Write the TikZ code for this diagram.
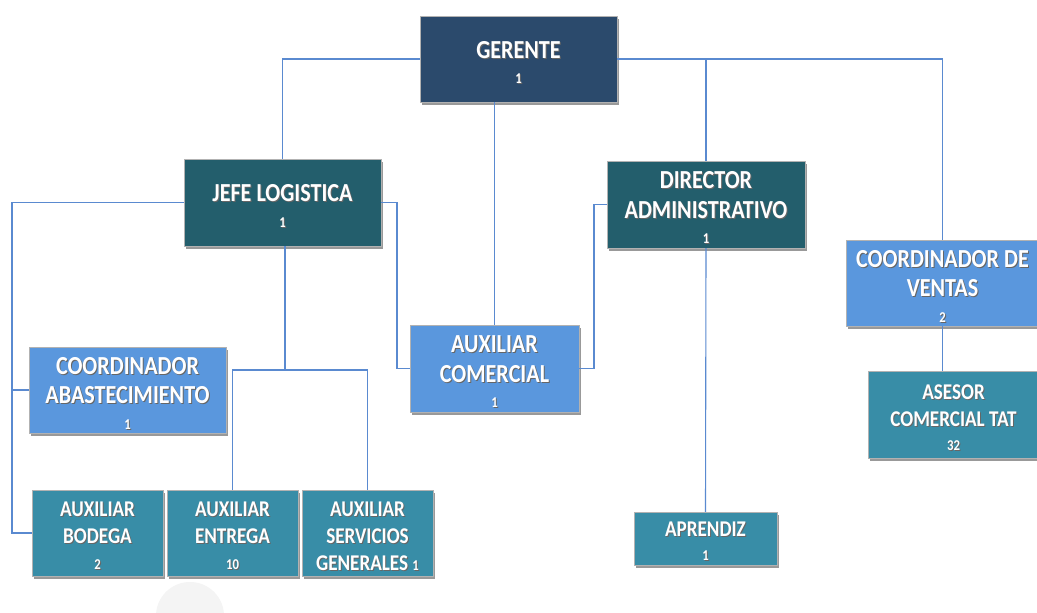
\documentclass[tikz,border=0pt]{standalone}
\usepackage{fontspec}
\setmainfont{Carlito}[FakeStretch=0.85]
\usetikzlibrary{shadows}
\definecolor{navy}{HTML}{2B4A6C}
\definecolor{dteal}{HTML}{235E6C}
\definecolor{lblue}{HTML}{5A97DD}
\definecolor{teal2}{HTML}{388DA7}
\definecolor{conn}{HTML}{5A8AD0}
\newcommand\shtext[1]{\leavevmode\rlap{\kern1pt\raisebox{-1pt}{\color{black!60}#1}}#1}
\newcommand\bt[1]{\shtext{#1}}
\newcommand\ft[1]{\rule{0pt}{0.95em}\shtext{#1}}
\newcommand\nm[1]{{\fontsize{15}{29}\selectfont\shtext{#1}}}
\tikzset{
  box/.style={draw=white!70!black, line width=0.4pt, text=white, align=center,
    inner sep=0pt, font=\fontsize{26}{29.5}\selectfont\bfseries,
    drop shadow={shadow xshift=2pt, shadow yshift=-2.5pt, opacity=0.4, fill=black}},
  small/.style={font=\fontsize{22.5}{27}\selectfont\bfseries},
  cn/.style={draw=conn, line width=1.1pt}
}
\begin{document}
\begin{tikzpicture}[x=1pt,y=-1pt]
\useasboundingbox (0,0) rectangle (1037,613);
\clip (0,0) rectangle (1037,613);
\fill[white] (0,0) rectangle (1037,613);
\fill[gray!9] (190,616) circle (34);
% nodes
\node[box, fill=navy, minimum width=197pt, minimum height=86pt] (g) at (518.5,59) {\ft{GERENTE}\\[-4pt]\nm{1}};
\node[box, fill=dteal, minimum width=197pt, minimum height=87pt] (j) at (282.5,202.5) {\ft{JEFE LOGISTICA}\\[-4pt]\nm{1}};
\node[box, fill=dteal, minimum width=198pt, minimum height=87pt] (d) at (706,204.5) {\ft{DIRECTOR}\\\bt{ADMINISTRATIVO}\\[-4pt]\nm{1}};
\node[box, fill=lblue, minimum width=193pt, minimum height=86pt] (cv) at (942.5,283) {\ft{COORDINADOR DE}\\\bt{VENTAS}\\[-4pt]\nm{2}};
\node[box, small, fill=teal2, minimum width=171pt, minimum height=87pt] (as) at (953.5,414.5) {\ft{ASESOR}\\\bt{COMERCIAL TAT}\\[-3pt]\nm{32}};
\node[box, fill=lblue, minimum width=169pt, minimum height=87pt] (ac) at (494.5,368.5) {\ft{AUXILIAR}\\\bt{COMERCIAL}\\[-4pt]\nm{1}};
\node[box, fill=lblue, minimum width=197pt, minimum height=86pt] (ca) at (127.5,390) {\ft{COORDINADOR}\\\bt{ABASTECIMIENTO}\\[-4pt]\nm{1}};
\node[box, small, fill=teal2, minimum width=131pt, minimum height=86pt] (ab) at (97.5,533) {\ft{AUXILIAR}\\\bt{BODEGA}\\[-1pt]\nm{2}};
\node[box, small, fill=teal2, minimum width=131pt, minimum height=86pt] (ae) at (232.5,533) {\ft{AUXILIAR}\\\bt{ENTREGA}\\[-1pt]\nm{10}};
\node[box, small, fill=teal2, minimum width=131pt, minimum height=86pt] (asg) at (367.5,533) {\ft{AUXILIAR}\\\bt{SERVICIOS}\\\bt{GENERALES} \nm{1}};
\node[box, small, fill=teal2, minimum width=143pt, minimum height=53pt] (ap) at (705.5,538.5) {\ft{APRENDIZ}\\[-3pt]\nm{1}};
% connector coordinates
\coordinate (jl) at (12,202.5);
\coordinate (jm) at (285,370);
\coordinate (jr) at (397,202.5);
\coordinate (dl) at (594,204.5);
% connectors
\draw[cn] (g.west) -| (j.north);
\draw[cn] (g.east) -| (cv.north);
\draw[cn] (d.north) -- (d.north |- g.east);
\draw[cn] (g.south -| ac.north) -- (ac.north);
\draw[cn] (j.west) -- (jl) |- (ab.west);
\draw[cn] (jl |- ca.west) -- (ca.west);
\draw[cn] (j.south -| jm) -- (jm);
\draw[cn] (ae.north) |- (jm) -| (asg.north);
\draw[cn] (j.east) -- (jr) |- (ac.west);
\draw[cn] (d.west) -- (dl) |- (ac.east);
\draw[cn] (d.south) -- (ap.north);
\draw[cn] (cv.south) -- (cv.south |- as.north);
\end{tikzpicture}
\end{document}
